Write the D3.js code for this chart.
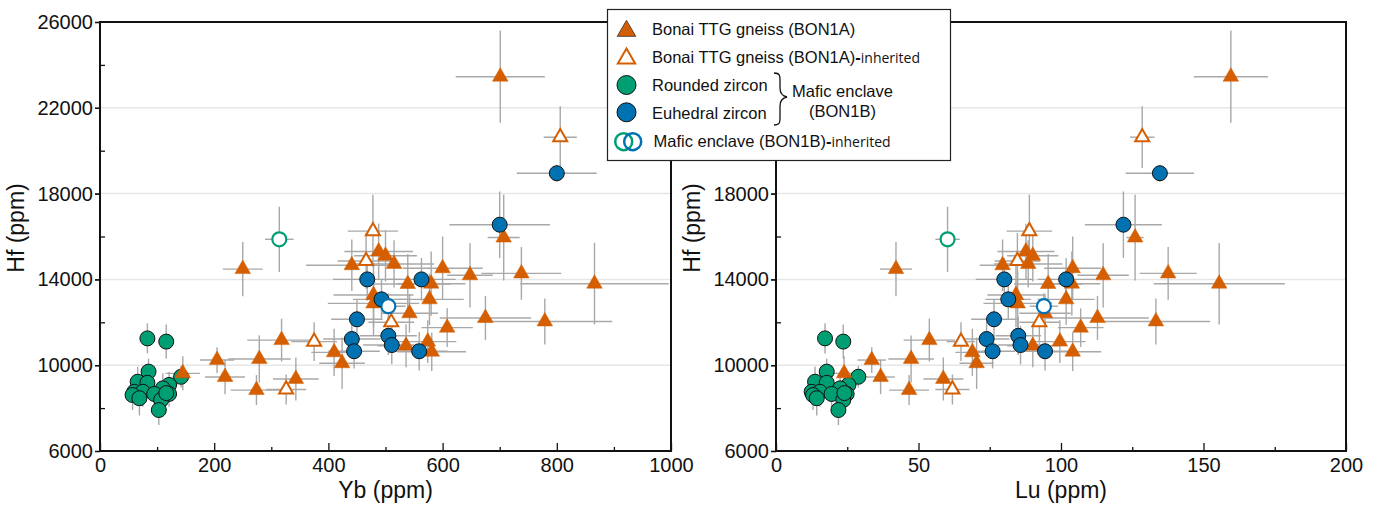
<!DOCTYPE html>
<html>
<head>
<meta charset="utf-8">
<script src="https://cdn.jsdelivr.net/npm/d3@7"></script>
<style>
  body { margin: 0; background: #fff; }
  svg { font-family: "Liberation Sans", Arial, sans-serif; }
</style>
</head>
<body>
<svg id="chart"></svg>
<script>
// ---- data ----
// Bonai TTG gneiss (BON1A)
const ttgHf    = [23450, 15950, 14480, 15300, 15100, 14720, 14660, 14520, 14280, 14190, 13800, 13800, 13785, 13270, 12880, 13070, 12420, 12200, 12040, 11750, 11100, 10630, 10910, 10600, 10090, 11170, 10290, 8840, 9360, 10240, 9450, 9620];
const ttgHfErr = [2150, 2000, 1260, 1300, 1200, 1100, 1200, 1480, 1230, 1500, 1900, 1500, 1400, 1500, 1500, 1200, 900, 1030, 1070, 900, 1000, 900, 1000, 1100, 1200, 1000, 1100, 700, 1000, 600, 800, 800];
const ttgYb    = [701, 707, 250, 488, 500, 515, 441, 600, 738, 648, 866, 580, 539, 479, 479, 577, 542, 675, 779, 608, 574, 581, 536, 410, 424, 318, 279, 274, 343, 205, 219, 145];
const ttgYbErr = [78, 28, 35, 60, 55, 70, 80, 70, 70, 40, 130, 60, 75, 70, 80, 60, 50, 80, 118, 45, 50, 60, 50, 40, 40, 60, 55, 45, 40, 30, 35, 30];
const ttgLu    = [159.6, 126, 42.1, 87.7, 90.1, 88.5, 79.5, 104.1, 137.6, 114.8, 155.5, 103.8, 95.5, 84.2, 84.8, 101.8, 94.4, 112.8, 133.3, 106.9, 99.6, 104.1, 90.1, 68.9, 70.4, 53.8, 47.4, 46.7, 58.7, 33.6, 36.7, 23.9];
const ttgLuErr = [13, 3, 5.6, 10, 9, 12, 8, 10, 10, 9, 23, 10, 12, 10, 12, 10, 9, 18, 19, 8, 9, 10, 9, 6, 6, 9, 8, 7, 7, 5, 5, 5];

// Bonai TTG gneiss (BON1A)-inherited
const inhHf    = [20630, 16250, 14860, 12000, 11100, 8870];
const inhHfErr = [1440, 1700, 1300, 1000, 900, 700];
const inhYb    = [806, 478, 466, 510, 375, 326];
const inhYbErr = [29, 44, 50, 40, 40, 35];
const inhLu    = [128.5, 88.9, 84.7, 92.4, 64.9, 61.9];
const inhLuErr = [4.3, 8, 8, 7, 5, 6];

// Rounded zircon (BON1B)
const rndHf    = [11250, 11100, 9700, 9460, 9230, 9180, 9080, 8920, 8760, 8760, 8660, 8660, 8610, 8460, 8380, 7910, 8700];
const rndHfErr = [700, 800, 600, 500, 700, 700, 600, 700, 600, 700, 600, 600, 700, 800, 600, 700, 600];
const rndYb    = [83, 116, 85, 142, 66, 83, 121, 110, 60, 75, 95, 121, 57, 69, 107, 103, 116];
const rndYbErr = [10, 12, 12, 15, 10, 12, 15, 12, 10, 12, 15, 12, 10, 10, 12, 12, 15];
const rndLu    = [17.2, 23.6, 17.8, 28.9, 13.7, 17.8, 25.4, 22.5, 12.5, 15.4, 19.5, 24.8, 13.0, 14.3, 23.6, 21.9, 24.0];
const rndLuErr = [2, 2, 2, 3, 2, 2, 3, 2, 2, 2, 3, 2, 2, 2, 2, 2, 3];

// Euhedral zircon (BON1B)
const euhHf    = [18950, 16550, 14000, 14000, 13070, 12140, 11220, 10650, 11370, 10940, 10650];
const euhHfErr = [400, 1550, 1000, 1000, 900, 900, 800, 800, 900, 900, 900];
const euhYb    = [800, 700, 468, 563, 493, 450, 441, 445, 505, 511, 559];
const euhYbErr = [70, 88, 60, 60, 50, 45, 50, 45, 50, 50, 50];
const euhLu    = [134.7, 121.9, 80.1, 101.8, 81.5, 76.5, 73.9, 76.0, 85.0, 85.8, 94.4];
const euhLuErr = [12, 13.5, 10, 10, 8, 8, 8, 8, 8, 8, 9];

// Mafic enclave (BON1B)-inherited: one rounded (green), one euhedral (blue)
const mInhKind  = ['rounded', 'euhedral'];
const mInhHf    = [15870, 12750];
const mInhHfErr = [1520, 600];
const mInhYb    = [314, 505];
const mInhYbErr = [25, 30];
const mInhLu    = [60.2, 94.0];
const mInhLuErr = [4.3, 5];

// axes
const hfTicks = [6000, 10000, 14000, 18000, 22000, 26000];
const hfLabelsRight = [6000, 10000, 14000, 18000]; // the others sit under the legend
const hfMinor = [8000, 12000, 16000, 20000, 24000];
const hfGrid  = [10000, 14000, 18000, 22000];
const ybTicks = [0, 200, 400, 600, 800, 1000];
const ybMinor = [100, 300, 500, 700, 900];
const luTicks = [0, 50, 100, 150, 200];
const luMinor = [25, 75, 125, 175];

const ORANGE = '#D55E00', GREEN = '#009E73', BLUE = '#0072B2';

const W = 1381, H = 507;
const svg = d3.select('#chart').attr('width', W).attr('height', H);

const y = d3.scaleLinear().domain([6000, 26000]).range([451, 22]);

function rows(hf, hfErr, xs, xErr, extra) {
  return hf.map((v, i) => ({ hf: v, hfErr: hfErr[i], x: xs[i], xErr: xErr[i], kind: extra ? extra[i] : null }));
}

function drawPanel(opts) {
  const { x, key, ticks, minor, title, hfLabels } = opts;
  const g = svg.append('g');
  const [x0, x1] = x.range();

  // gridlines
  g.selectAll('line.grid').data(hfGrid).enter().append('line')
    .attr('x1', x0).attr('x2', x1)
    .attr('y1', d => y(d)).attr('y2', d => y(d))
    .attr('stroke', '#e6e6e6').attr('stroke-width', 1.5);

  const sets = [
    { data: rows(rndHf, rndHfErr, key === 'yb' ? rndYb : rndLu, key === 'yb' ? rndYbErr : rndLuErr), type: 'rnd' },
    { data: rows(ttgHf, ttgHfErr, key === 'yb' ? ttgYb : ttgLu, key === 'yb' ? ttgYbErr : ttgLuErr), type: 'ttg' },
    { data: rows(inhHf, inhHfErr, key === 'yb' ? inhYb : inhLu, key === 'yb' ? inhYbErr : inhLuErr), type: 'inh' },
    { data: rows(euhHf, euhHfErr, key === 'yb' ? euhYb : euhLu, key === 'yb' ? euhYbErr : euhLuErr), type: 'euh' },
    { data: rows(mInhHf, mInhHfErr, key === 'yb' ? mInhYb : mInhLu, key === 'yb' ? mInhYbErr : mInhLuErr, mInhKind), type: 'minh' }
  ];

  // error bars first
  const eb = g.append('g').attr('stroke', '#9a9a9a').attr('stroke-width', 1.4).attr('opacity', 0.85);
  sets.forEach(s => {
    s.data.forEach(d => {
      eb.append('line').attr('x1', x(d.x - d.xErr)).attr('x2', x(d.x + d.xErr))
        .attr('y1', y(d.hf)).attr('y2', y(d.hf));
      eb.append('line').attr('x1', x(d.x)).attr('x2', x(d.x))
        .attr('y1', y(d.hf - d.hfErr)).attr('y2', y(d.hf + d.hfErr));
    });
  });

  const tri = d3.symbol().type(d3.symbolTriangle);
  sets.forEach(s => {
    const sel = g.append('g').selectAll('.m').data(s.data).enter();
    if (s.type === 'rnd' || s.type === 'euh') {
      sel.append('circle').attr('cx', d => x(d.x)).attr('cy', d => y(d.hf)).attr('r', 7.5)
        .attr('fill', s.type === 'rnd' ? GREEN : BLUE).attr('stroke', '#111').attr('stroke-width', 1);
    } else if (s.type === 'ttg') {
      sel.append('path').attr('d', tri.size(105)())
        .attr('transform', d => `translate(${x(d.x)},${y(d.hf)})`)
        .attr('fill', ORANGE).attr('stroke', ORANGE).attr('stroke-width', 0.5);
    } else if (s.type === 'inh') {
      sel.append('path').attr('d', tri.size(85)())
        .attr('transform', d => `translate(${x(d.x)},${y(d.hf)})`)
        .attr('fill', '#fff').attr('stroke', ORANGE).attr('stroke-width', 2);
    } else {
      sel.append('circle').attr('cx', d => x(d.x)).attr('cy', d => y(d.hf)).attr('r', 7)
        .attr('fill', '#fff').attr('stroke', d => d.kind === 'rounded' ? GREEN : BLUE).attr('stroke-width', 2.2);
    }
  });

  // axes
  const xAxis = g.append('g').attr('transform', 'translate(0,451)')
    .call(d3.axisBottom(x).tickValues(ticks).tickSize(-8).tickPadding(7).tickFormat(d3.format('d')));
  g.append('g').attr('transform', 'translate(0,451)')
    .call(d3.axisBottom(x).tickValues(minor).tickSize(-4).tickFormat(''));
  g.append('g').attr('transform', `translate(${x0},0)`)
    .call(d3.axisLeft(y).tickValues(hfTicks).tickSize(5).tickFormat(''));
  const yAxis = g.append('g').attr('transform', `translate(${x0},0)`)
    .call(d3.axisLeft(y).tickValues(hfLabels).tickSize(5).tickPadding(2).tickFormat(d3.format('d')));
  g.append('g').attr('transform', `translate(${x0},0)`)
    .call(d3.axisLeft(y).tickValues(hfMinor).tickSize(-5).tickFormat(''));
  g.selectAll('.domain').remove();
  g.selectAll('.tick line').attr('stroke', '#111').attr('stroke-width', 1.3);
  xAxis.selectAll('text').attr('font-size', 20).attr('fill', '#111')
    .attr('font-family', '"Liberation Sans", Arial, sans-serif');
  yAxis.selectAll('text').attr('font-size', 20).attr('fill', '#111')
    .attr('font-family', '"Liberation Sans", Arial, sans-serif');

  // frame
  g.append('rect').attr('x', x0).attr('y', 22).attr('width', x1 - x0).attr('height', 451 - 22)
    .attr('fill', 'none').attr('stroke', '#111').attr('stroke-width', 2);

  // titles
  g.append('text').attr('x', (x0 + x1) / 2).attr('y', 498).attr('text-anchor', 'middle')
    .attr('font-size', 23).attr('fill', '#111').text(title);
  g.append('text').attr('transform', `translate(${x0 - 76},228) rotate(-90)`)
    .attr('text-anchor', 'middle').attr('font-size', 23).attr('fill', '#111').text('Hf (ppm)');
}

drawPanel({ x: d3.scaleLinear().domain([0, 1000]).range([100, 671]), key: 'yb', ticks: ybTicks, minor: ybMinor, title: 'Yb (ppm)', hfLabels: hfTicks });
drawPanel({ x: d3.scaleLinear().domain([0, 200]).range([776, 1346]), key: 'lu', ticks: luTicks, minor: luMinor, title: 'Lu (ppm)', hfLabels: hfLabelsRight });

// ---- legend ----
const lg = svg.append('g');
lg.append('rect').attr('x', 607.5).attr('y', 9.5).attr('width', 343).attr('height', 151)
  .attr('fill', '#fff').attr('stroke', '#222').attr('stroke-width', 1.2);

const lx = 626.5, tx = 652;
lg.append('path').attr('d', d3.symbol().type(d3.symbolTriangle).size(150)())
  .attr('transform', `translate(${lx},31)`).attr('fill', ORANGE).attr('stroke', '#333').attr('stroke-width', 0.8);
lg.append('path').attr('d', d3.symbol().type(d3.symbolTriangle).size(130)())
  .attr('transform', `translate(${lx},58.5)`).attr('fill', '#fff').attr('stroke', ORANGE).attr('stroke-width', 2);
lg.append('circle').attr('cx', lx).attr('cy', 85).attr('r', 9.5).attr('fill', GREEN).attr('stroke', '#111');
lg.append('circle').attr('cx', lx).attr('cy', 112.3).attr('r', 9.5).attr('fill', BLUE).attr('stroke', '#111');
lg.append('circle').attr('cx', 623.7).attr('cy', 141.7).attr('r', 8.5).attr('fill', 'none').attr('stroke', GREEN).attr('stroke-width', 2.5);
lg.append('circle').attr('cx', 632.7).attr('cy', 141.7).attr('r', 8.5).attr('fill', 'none').attr('stroke', BLUE).attr('stroke-width', 2.5);

const fs = 16.5;
function legText(yy, main, suffix, xx) {
  const t = lg.append('text').attr('x', xx || tx).attr('y', yy).attr('font-size', fs).attr('fill', '#111');
  t.append('tspan').text(main);
  if (suffix) {
    t.append('tspan').attr('font-weight', 'bold').text('-');
    t.append('tspan').attr('font-family', '"Open Sans", sans-serif').attr('font-size', 14).text(suffix);
  }
}
legText(35, 'Bonai TTG gneiss (BON1A)');
legText(63.3, 'Bonai TTG gneiss (BON1A)', 'inherited');
legText(91, 'Rounded zircon');
legText(119.3, 'Euhedral zircon');
legText(147, 'Mafic enclave (BON1B)', 'inherited', 653.5);

// brace
lg.append('path')
  .attr('d', 'M774,73 C780,73 780,76 780,80 L780,88 C780,93 782,96 787,97 C782,98 780,101 780,106 L780,118 C780,122 780,125 774,125')
  .attr('fill', 'none').attr('stroke', '#111').attr('stroke-width', 1.3);
lg.append('text').attr('x', 842.5).attr('y', 96.7).attr('text-anchor', 'middle').attr('font-size', fs).attr('fill', '#111').text('Mafic enclave');
lg.append('text').attr('x', 842.5).attr('y', 116.7).attr('text-anchor', 'middle').attr('font-size', fs).attr('fill', '#111').text('(BON1B)');
</script>
</body>
</html>
